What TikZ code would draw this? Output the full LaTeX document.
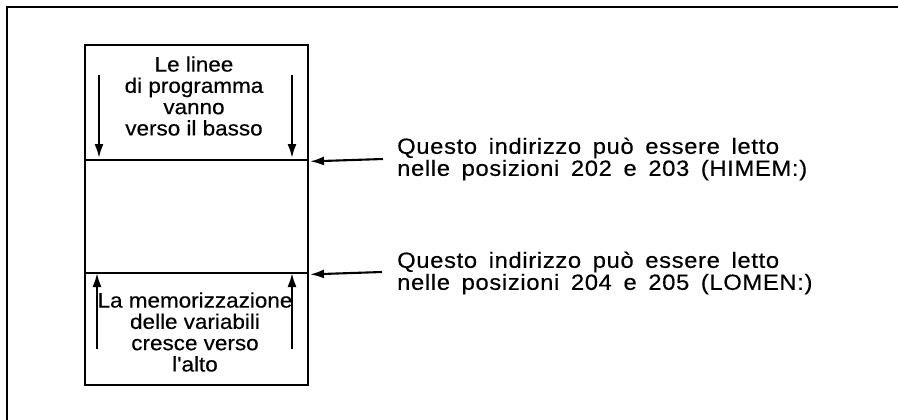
\documentclass[tikz,border=0pt]{standalone}
\usepackage{fontspec}
\setmainfont{Liberation Sans}
\newfontfamily\boxfont[FakeStretch=1.07,FakeBold=0.4]{Liberation Sans}
\newfontfamily\notefont[FakeStretch=1.08,FakeBold=0.4,LetterSpace=3,WordSpace=1.6]{Liberation Sans}
\usetikzlibrary{arrows.meta}
\begin{document}
\begin{tikzpicture}[x=1pt,y=-1pt,
  frame/.style={line width=2.6pt},
  region/.style={draw,line width=2.4pt,minimum width=223pt,inner sep=0pt,anchor=north west},
  flow/.style={line width=2.1pt,-{Latex[length=14pt,width=9pt]}},
  lbl/.style={font=\boxfont\fontsize{21}{21.3}\selectfont,align=center,inner sep=0pt},
  note/.style={font=\notefont\fontsize{22}{22}\selectfont,align=left,inner sep=0pt,anchor=west}]
\useasboundingbox (0,0) rectangle (898,420);
\draw[frame] (7,421) -- (7,7) -- (899,7);
% memory box
\node[region,minimum height=115pt] (top) at (84,44) {};
\node[region,minimum height=113pt] (mid) at (84,159) {};
\node[region,minimum height=112pt] (bot) at (84,272) {};
\node[lbl] (ttext) at (194,96) {Le linee\\di programma\\vanno\\verso il basso};
\node[lbl] (btext) at (195,332) {La memorizzazione\\delle variabili\\cresce verso\\l'alto};
% inner arrows
\coordinate (d1s) at (99,75);  \coordinate (d1e) at (99,158);
\coordinate (d2s) at (292,75); \coordinate (d2e) at (292,158);
\coordinate (u1s) at (97,349); \coordinate (u1e) at (97,273);
\coordinate (u2s) at (292,349);\coordinate (u2e) at (292,273);
\draw[flow] (d1s) -- (d1e);
\draw[flow] (d2s) -- (d2e);
\draw[flow] (u1s) -- (u1e);
\draw[flow] (u2s) -- (u2e);
% notes
\node[note] (n1) at (397,159) {Questo indirizzo può essere letto\\nelle posizioni 202 e 203 (HIMEM:)};
\node[note] (n2) at (397,273) {Questo indirizzo può essere letto\\nelle posizioni 204 e 205 (LOMEN:)};
\coordinate (a1s) at (383,159);
\coordinate (a2s) at (382,272);
\draw[flow] (a1s) -- (top.south east -| 310,0);
\draw[flow] (a2s) -- (mid.south east -| 310,0);
\end{tikzpicture}
\end{document}
